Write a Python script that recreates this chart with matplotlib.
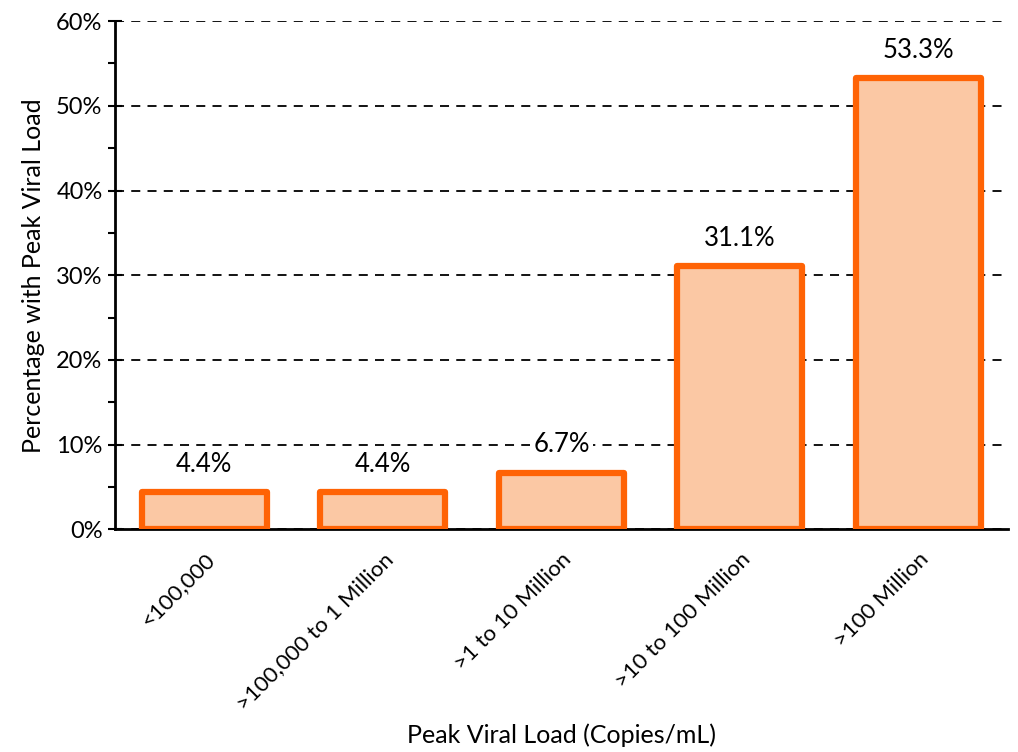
import numpy as np
import matplotlib.pyplot as plt
from matplotlib.ticker import MultipleLocator, PercentFormatter

plt.rcParams['font.family'] = ['Lato', 'DejaVu Sans']

categories = ["<100,000", ">100,000 to 1 Million", ">1 to 10 Million",
              ">10 to 100 Million", ">100 Million"]
values = [4.4, 4.4, 6.7, 31.1, 53.3]

ORANGE = "#FF6305"
PEACH = "#FBC8A4"

fig = plt.figure(figsize=(10.18, 7.52), dpi=100)
ax = fig.add_axes([0.113, 0.296, 0.877, 0.676])

x = np.arange(len(categories))
ax.bar(x, values, width=0.70, color=PEACH, edgecolor=ORANGE, linewidth=4.5,
       joinstyle="round", zorder=3)

for xi, v in zip(x, values):
    ax.annotate(f"{v:.1f}%", (xi, v), xytext=(0, 20), textcoords="offset points",
                ha="center", va="center", fontsize=18.5,
                bbox=dict(facecolor="white", edgecolor="none", pad=2), zorder=4)

ax.set_xlim(-0.5, 4.5)
ax.set_ylim(0, 60)
ax.yaxis.set_major_locator(MultipleLocator(10))
ax.yaxis.set_minor_locator(MultipleLocator(5))
ax.yaxis.set_major_formatter(PercentFormatter(decimals=0))
ax.grid(axis="y", which="major", color="black", linestyle=(0, (5, 4)),
        linewidth=1.3, zorder=1)
ax.set_axisbelow(True)

ax.set_xticks(x)
ax.set_xticklabels(categories, rotation=45, ha="right", rotation_mode="anchor",
                   fontsize=16)
ax.tick_params(axis="x", length=0, pad=14)
ax.tick_params(axis="y", which="major", direction="inout", length=10, width=1.5,
               labelsize=17, pad=4)
ax.tick_params(axis="y", which="minor", direction="out", length=5, width=1.5)

for s in ["top", "right"]:
    ax.spines[s].set_visible(False)
for s in ["left", "bottom"]:
    ax.spines[s].set_linewidth(2)

ax.set_ylabel("Percentage with Peak Viral Load", fontsize=18, labelpad=8)
fig.text(0.552, 0.012, "Peak Viral Load (Copies/mL)", ha="center", fontsize=18)

plt.savefig("out.png", dpi=100)
